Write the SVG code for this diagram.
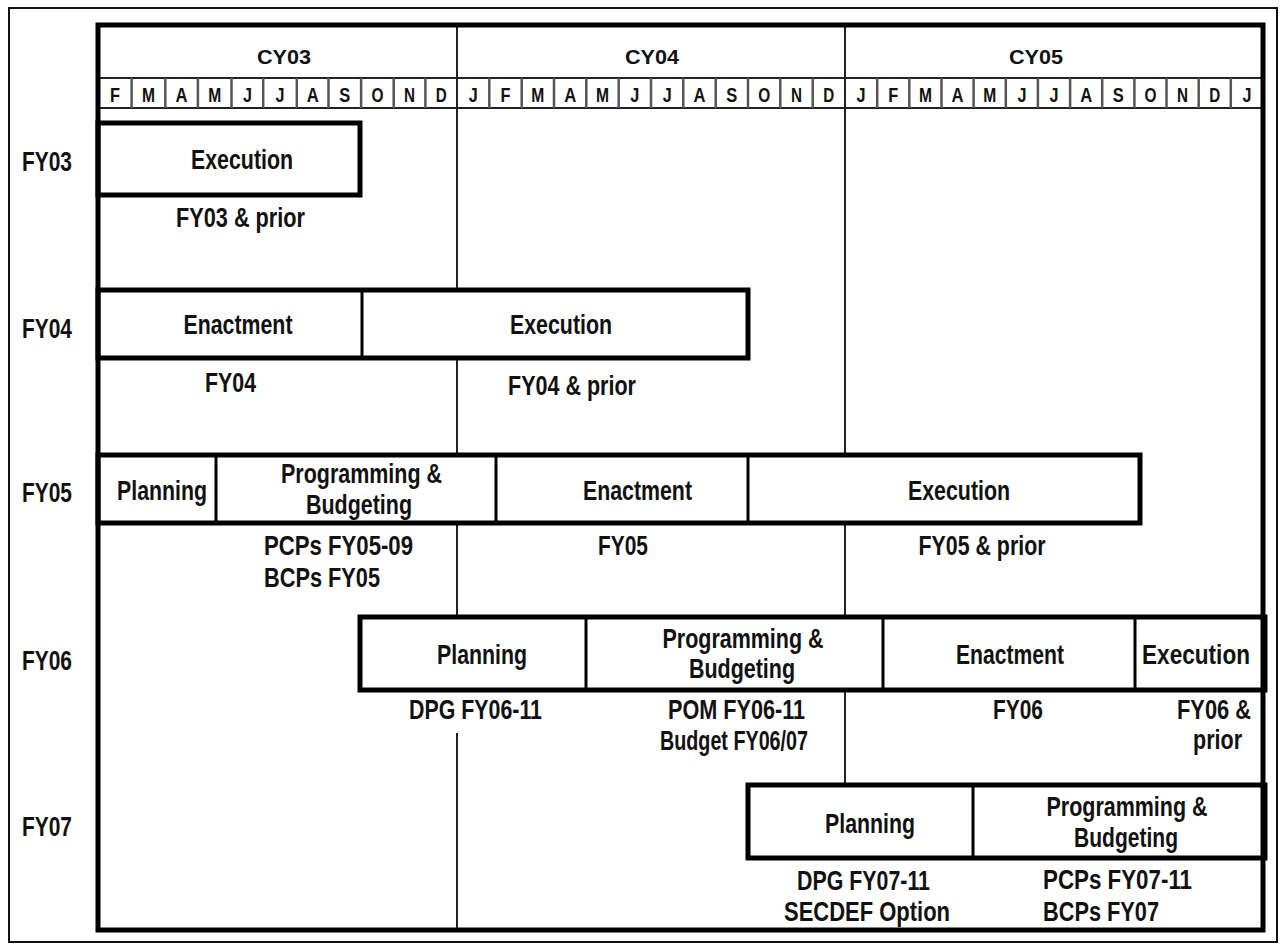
<svg xmlns="http://www.w3.org/2000/svg" width="1281" height="945" viewBox="0 0 1281 945">
<style>
.frame{fill:none;stroke:#111;stroke-width:2}
.main{fill:none;stroke:#000;stroke-width:5}
.box{fill:#fff;stroke:#000;stroke-width:5}
.dv{stroke:#000;stroke-width:3}
.hl{stroke:#222;stroke-width:2}
.ml{stroke:#555;stroke-width:2.5}
.grid{stroke:#222;stroke-width:2}
.t{font-family:"Liberation Sans",Arial,sans-serif;font-weight:bold;font-size:28px;text-anchor:middle;fill:#111}
.s{font-size:21px}
.m{font-size:20.5px}
.l{text-anchor:start}
.r{text-anchor:end}
</style>
<rect x="0" y="0" width="1281" height="945" fill="#fff"/>
<rect class="frame" x="9" y="8" width="1268" height="934"/>

<g id="header">
<line class="hl" x1="98" y1="78" x2="1263" y2="78"/>
<line class="hl" x1="98" y1="108" x2="1263" y2="108"/>
<line class="hl" x1="457" y1="25" x2="457" y2="108"/>
<line class="hl" x1="845" y1="25" x2="845" y2="108"/>
<text class="t s" x="284" y="64" textLength="54" lengthAdjust="spacingAndGlyphs">CY03</text>
<text class="t s" x="652" y="64" textLength="54" lengthAdjust="spacingAndGlyphs">CY04</text>
<text class="t s" x="1036" y="64" textLength="54" lengthAdjust="spacingAndGlyphs">CY05</text>
<g id="months">
<line class="ml" x1="131.6" y1="78" x2="131.6" y2="108"/>
<line class="ml" x1="165.3" y1="78" x2="165.3" y2="108"/>
<line class="ml" x1="197.9" y1="78" x2="197.9" y2="108"/>
<line class="ml" x1="231.5" y1="78" x2="231.5" y2="108"/>
<line class="ml" x1="263.2" y1="78" x2="263.2" y2="108"/>
<line class="ml" x1="296.8" y1="78" x2="296.8" y2="108"/>
<line class="ml" x1="328.5" y1="78" x2="328.5" y2="108"/>
<line class="ml" x1="361.1" y1="78" x2="361.1" y2="108"/>
<line class="ml" x1="393.7" y1="78" x2="393.7" y2="108"/>
<line class="ml" x1="425.4" y1="78" x2="425.4" y2="108"/>
<line class="ml" x1="489.3" y1="78" x2="489.3" y2="108"/>
<line class="ml" x1="521.7" y1="78" x2="521.7" y2="108"/>
<line class="ml" x1="554" y1="78" x2="554" y2="108"/>
<line class="ml" x1="586.3" y1="78" x2="586.3" y2="108"/>
<line class="ml" x1="618.7" y1="78" x2="618.7" y2="108"/>
<line class="ml" x1="651" y1="78" x2="651" y2="108"/>
<line class="ml" x1="683.3" y1="78" x2="683.3" y2="108"/>
<line class="ml" x1="715.7" y1="78" x2="715.7" y2="108"/>
<line class="ml" x1="748" y1="78" x2="748" y2="108"/>
<line class="ml" x1="780.3" y1="78" x2="780.3" y2="108"/>
<line class="ml" x1="812.7" y1="78" x2="812.7" y2="108"/>
<line class="ml" x1="877.2" y1="78" x2="877.2" y2="108"/>
<line class="ml" x1="909.3" y1="78" x2="909.3" y2="108"/>
<line class="ml" x1="941.5" y1="78" x2="941.5" y2="108"/>
<line class="ml" x1="973.6" y1="78" x2="973.6" y2="108"/>
<line class="ml" x1="1005.8" y1="78" x2="1005.8" y2="108"/>
<line class="ml" x1="1037.9" y1="78" x2="1037.9" y2="108"/>
<line class="ml" x1="1070.1" y1="78" x2="1070.1" y2="108"/>
<line class="ml" x1="1102.2" y1="78" x2="1102.2" y2="108"/>
<line class="ml" x1="1134.4" y1="78" x2="1134.4" y2="108"/>
<line class="ml" x1="1166.5" y1="78" x2="1166.5" y2="108"/>
<line class="ml" x1="1198.7" y1="78" x2="1198.7" y2="108"/>
<line class="ml" x1="1230.8" y1="78" x2="1230.8" y2="108"/>
<text class="t m" x="115" y="101.5" textLength="10" lengthAdjust="spacingAndGlyphs">F</text>
<text class="t m" x="148.5" y="101.5" textLength="13" lengthAdjust="spacingAndGlyphs">M</text>
<text class="t m" x="181.6" y="101.5" textLength="12" lengthAdjust="spacingAndGlyphs">A</text>
<text class="t m" x="214.7" y="101.5" textLength="13" lengthAdjust="spacingAndGlyphs">M</text>
<text class="t m" x="247.4" y="101.5" textLength="9" lengthAdjust="spacingAndGlyphs">J</text>
<text class="t m" x="280" y="101.5" textLength="9" lengthAdjust="spacingAndGlyphs">J</text>
<text class="t m" x="312.7" y="101.5" textLength="12" lengthAdjust="spacingAndGlyphs">A</text>
<text class="t m" x="344.8" y="101.5" textLength="11" lengthAdjust="spacingAndGlyphs">S</text>
<text class="t m" x="377.4" y="101.5" textLength="12" lengthAdjust="spacingAndGlyphs">O</text>
<text class="t m" x="409.5" y="101.5" textLength="11" lengthAdjust="spacingAndGlyphs">N</text>
<text class="t m" x="441.2" y="101.5" textLength="11" lengthAdjust="spacingAndGlyphs">D</text>
<text class="t m" x="473.2" y="101.5" textLength="9" lengthAdjust="spacingAndGlyphs">J</text>
<text class="t m" x="505.5" y="101.5" textLength="10" lengthAdjust="spacingAndGlyphs">F</text>
<text class="t m" x="537.8" y="101.5" textLength="13" lengthAdjust="spacingAndGlyphs">M</text>
<text class="t m" x="570.2" y="101.5" textLength="12" lengthAdjust="spacingAndGlyphs">A</text>
<text class="t m" x="602.5" y="101.5" textLength="13" lengthAdjust="spacingAndGlyphs">M</text>
<text class="t m" x="634.8" y="101.5" textLength="9" lengthAdjust="spacingAndGlyphs">J</text>
<text class="t m" x="667.2" y="101.5" textLength="9" lengthAdjust="spacingAndGlyphs">J</text>
<text class="t m" x="699.5" y="101.5" textLength="12" lengthAdjust="spacingAndGlyphs">A</text>
<text class="t m" x="731.8" y="101.5" textLength="11" lengthAdjust="spacingAndGlyphs">S</text>
<text class="t m" x="764.2" y="101.5" textLength="12" lengthAdjust="spacingAndGlyphs">O</text>
<text class="t m" x="796.5" y="101.5" textLength="11" lengthAdjust="spacingAndGlyphs">N</text>
<text class="t m" x="828.8" y="101.5" textLength="11" lengthAdjust="spacingAndGlyphs">D</text>
<text class="t m" x="861.1" y="101.5" textLength="9" lengthAdjust="spacingAndGlyphs">J</text>
<text class="t m" x="893.3" y="101.5" textLength="10" lengthAdjust="spacingAndGlyphs">F</text>
<text class="t m" x="925.4" y="101.5" textLength="13" lengthAdjust="spacingAndGlyphs">M</text>
<text class="t m" x="957.6" y="101.5" textLength="12" lengthAdjust="spacingAndGlyphs">A</text>
<text class="t m" x="989.7" y="101.5" textLength="13" lengthAdjust="spacingAndGlyphs">M</text>
<text class="t m" x="1021.9" y="101.5" textLength="9" lengthAdjust="spacingAndGlyphs">J</text>
<text class="t m" x="1054" y="101.5" textLength="9" lengthAdjust="spacingAndGlyphs">J</text>
<text class="t m" x="1086.2" y="101.5" textLength="12" lengthAdjust="spacingAndGlyphs">A</text>
<text class="t m" x="1118.3" y="101.5" textLength="11" lengthAdjust="spacingAndGlyphs">S</text>
<text class="t m" x="1150.5" y="101.5" textLength="12" lengthAdjust="spacingAndGlyphs">O</text>
<text class="t m" x="1182.6" y="101.5" textLength="11" lengthAdjust="spacingAndGlyphs">N</text>
<text class="t m" x="1214.8" y="101.5" textLength="11" lengthAdjust="spacingAndGlyphs">D</text>
<text class="t m" x="1246.9" y="101.5" textLength="9" lengthAdjust="spacingAndGlyphs">J</text>
</g>
</g>

<g id="connectors">
<line class="grid" x1="457" y1="108" x2="457" y2="290"/>
<line class="grid" x1="457" y1="358" x2="457" y2="455"/>
<line class="grid" x1="457" y1="523" x2="457" y2="617"/>
<line class="grid" x1="457" y1="733" x2="457" y2="930"/>
<line class="grid" x1="845" y1="108" x2="845" y2="455"/>
<line class="grid" x1="845" y1="523" x2="845" y2="617"/>
<line class="grid" x1="845" y1="690" x2="845" y2="785"/>
</g>

<g id="row-labels">
<text class="t" x="47" y="171" textLength="50" lengthAdjust="spacingAndGlyphs">FY03</text>
<text class="t" x="47" y="338" textLength="50" lengthAdjust="spacingAndGlyphs">FY04</text>
<text class="t" x="47" y="502" textLength="50" lengthAdjust="spacingAndGlyphs">FY05</text>
<text class="t" x="47" y="670" textLength="50" lengthAdjust="spacingAndGlyphs">FY06</text>
<text class="t" x="47" y="836" textLength="50" lengthAdjust="spacingAndGlyphs">FY07</text>
</g>

<g id="fy03">
<rect class="box" x="98" y="123" width="262" height="72"/>
<text class="t" x="242" y="169" textLength="102" lengthAdjust="spacingAndGlyphs">Execution</text>
<text class="t" x="240.5" y="227" textLength="129" lengthAdjust="spacingAndGlyphs">FY03 &amp; prior</text>
</g>

<g id="fy04">
<rect class="box" x="98" y="290" width="650" height="68"/>
<line class="dv" x1="362" y1="290" x2="362" y2="358"/>
<text class="t" x="238" y="334" textLength="109" lengthAdjust="spacingAndGlyphs">Enactment</text>
<text class="t" x="561" y="334" textLength="102" lengthAdjust="spacingAndGlyphs">Execution</text>
<text class="t" x="230.5" y="392" textLength="51" lengthAdjust="spacingAndGlyphs">FY04</text>
<text class="t" x="572" y="395" textLength="128" lengthAdjust="spacingAndGlyphs">FY04 &amp; prior</text>
</g>

<g id="fy05">
<rect class="box" x="98" y="455" width="1042" height="68"/>
<line class="dv" x1="216" y1="455" x2="216" y2="523"/>
<line class="dv" x1="496" y1="455" x2="496" y2="523"/>
<line class="dv" x1="748" y1="455" x2="748" y2="523"/>
<text class="t" x="162" y="500" textLength="90" lengthAdjust="spacingAndGlyphs">Planning</text>
<text class="t" x="361.5" y="483" textLength="161" lengthAdjust="spacingAndGlyphs">Programming &amp;</text>
<text class="t" x="359" y="514" textLength="106" lengthAdjust="spacingAndGlyphs">Budgeting</text>
<text class="t" x="637.5" y="500" textLength="109" lengthAdjust="spacingAndGlyphs">Enactment</text>
<text class="t" x="959" y="500" textLength="102" lengthAdjust="spacingAndGlyphs">Execution</text>
<text class="t l" x="264" y="555" textLength="149" lengthAdjust="spacingAndGlyphs">PCPs FY05-09</text>
<text class="t l" x="264" y="587" textLength="116" lengthAdjust="spacingAndGlyphs">BCPs FY05</text>
<text class="t" x="623" y="555" textLength="50" lengthAdjust="spacingAndGlyphs">FY05</text>
<text class="t" x="982" y="555" textLength="127" lengthAdjust="spacingAndGlyphs">FY05 &amp; prior</text>
</g>

<g id="fy06">
<rect class="box" x="360" y="617" width="905" height="73"/>
<line class="dv" x1="586" y1="617" x2="586" y2="690"/>
<line class="dv" x1="883" y1="617" x2="883" y2="690"/>
<line class="dv" x1="1135" y1="617" x2="1135" y2="690"/>
<text class="t" x="482" y="664" textLength="90" lengthAdjust="spacingAndGlyphs">Planning</text>
<text class="t" x="743" y="648" textLength="161" lengthAdjust="spacingAndGlyphs">Programming &amp;</text>
<text class="t" x="742" y="678" textLength="106" lengthAdjust="spacingAndGlyphs">Budgeting</text>
<text class="t" x="1010" y="664" textLength="108" lengthAdjust="spacingAndGlyphs">Enactment</text>
<text class="t" x="1196" y="664" textLength="108" lengthAdjust="spacingAndGlyphs">Execution</text>
<text class="t" x="475.5" y="719" textLength="133" lengthAdjust="spacingAndGlyphs">DPG FY06-11</text>
<text class="t" x="736.5" y="719" textLength="137" lengthAdjust="spacingAndGlyphs">POM FY06-11</text>
<text class="t" x="734" y="750" textLength="148" lengthAdjust="spacingAndGlyphs">Budget FY06/07</text>
<text class="t" x="1018" y="719" textLength="50" lengthAdjust="spacingAndGlyphs">FY06</text>
<text class="t r" x="1251" y="719" textLength="74" lengthAdjust="spacingAndGlyphs">FY06 &amp;</text>
<text class="t r" x="1242" y="749" textLength="49" lengthAdjust="spacingAndGlyphs">prior</text>
</g>

<g id="fy07">
<rect class="box" x="748" y="785" width="517" height="73"/>
<line class="dv" x1="973" y1="785" x2="973" y2="858"/>
<text class="t" x="870" y="833" textLength="90" lengthAdjust="spacingAndGlyphs">Planning</text>
<text class="t" x="1127" y="816" textLength="161" lengthAdjust="spacingAndGlyphs">Programming &amp;</text>
<text class="t" x="1126" y="847" textLength="104" lengthAdjust="spacingAndGlyphs">Budgeting</text>
<text class="t" x="863.5" y="890" textLength="133" lengthAdjust="spacingAndGlyphs">DPG FY07-11</text>
<text class="t" x="867" y="921" textLength="166" lengthAdjust="spacingAndGlyphs">SECDEF Option</text>
<text class="t l" x="1043" y="889" textLength="149" lengthAdjust="spacingAndGlyphs">PCPs FY07-11</text>
<text class="t l" x="1043" y="921" textLength="116" lengthAdjust="spacingAndGlyphs">BCPs FY07</text>
</g>

<rect class="main" x="98" y="25" width="1165" height="905"/>
</svg>
